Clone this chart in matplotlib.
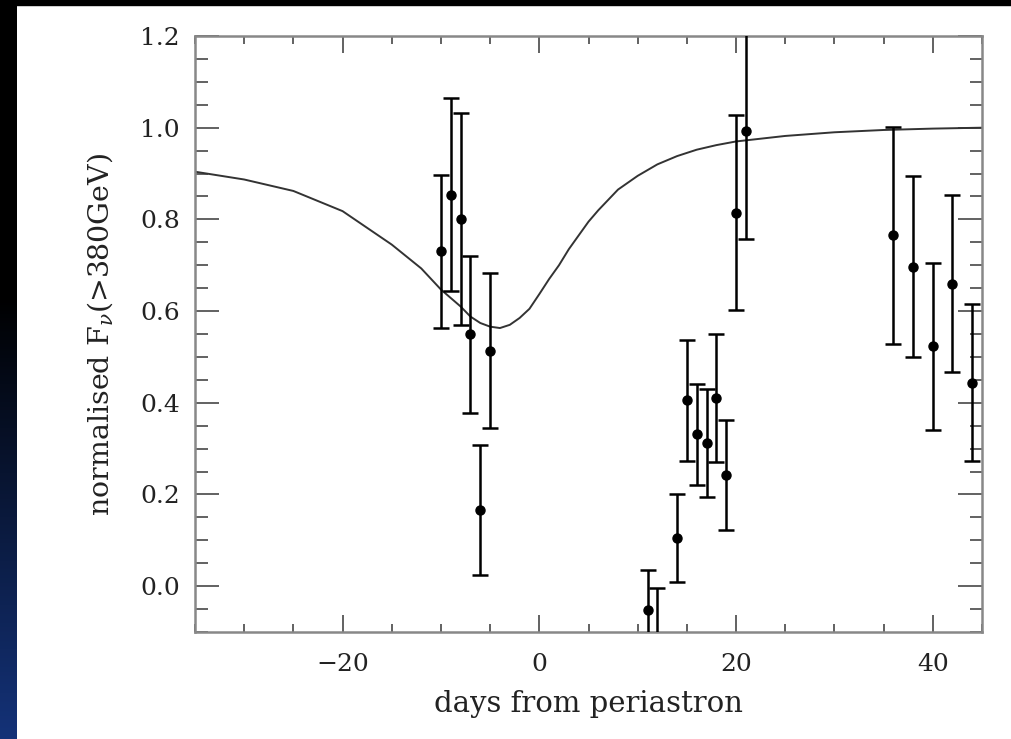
import matplotlib
matplotlib.use("Agg")
import matplotlib.pyplot as plt
import matplotlib.patches as patches
from matplotlib.colors import LinearSegmentedColormap
from matplotlib.ticker import MultipleLocator
import numpy as np

# measured points: days from periastron, normalised flux, symmetric error
days = [-10, -9, -8, -7, -6, -5, 11, 12, 14, 15, 16, 17, 18, 19, 20, 21, 36, 38, 40, 42, 44]
flux = [0.73, 0.854, 0.80, 0.549, 0.166, 0.514, -0.052, -0.13, 0.105, 0.405, 0.331, 0.312,
        0.41, 0.242, 0.815, 0.993, 0.765, 0.697, 0.523, 0.66, 0.444]
err = [0.167, 0.211, 0.231, 0.172, 0.142, 0.168, 0.087, 0.125, 0.097, 0.131, 0.11, 0.118,
       0.14, 0.12, 0.213, 0.235, 0.237, 0.198, 0.182, 0.193, 0.172]

# model curve
model_days = [-35, -30, -25, -20, -15, -12, -10, -8, -7, -6, -5, -4, -3, -2, -1, 0,
              1, 2, 3, 4, 5, 6, 8, 10, 12, 14, 16, 18, 20, 25, 30, 35, 40, 45]
model_flux = [0.904, 0.887, 0.862, 0.818, 0.745, 0.693, 0.647, 0.610, 0.588, 0.574, 0.566,
              0.563, 0.570, 0.585, 0.605, 0.637, 0.670, 0.700, 0.735, 0.765, 0.795, 0.820,
              0.865, 0.895, 0.920, 0.938, 0.952, 0.962, 0.970, 0.982, 0.990, 0.995, 0.998, 1.0]

plt.rcParams['font.family'] = ['DejaVu Serif']
plt.rcParams['mathtext.fontset'] = 'dejavuserif'

fig = plt.figure(figsize=(10.11, 7.39), dpi=100, facecolor='white')

# slide background: black top band and black-to-blue strip on the left
fig.patches.append(patches.Rectangle((0, 1 - 5/739), 1, 5/739, transform=fig.transFigure,
                                     color='black', zorder=0))
strip = fig.add_axes([0, 0, 17/1011, 1])
cmap = LinearSegmentedColormap.from_list('slide', [(0, '#000000'), (0.4, '#000000'),
                                                   (1, '#143278')])
strip.imshow(np.linspace(0, 1, 256).reshape(-1, 1), aspect='auto', cmap=cmap)
strip.axis('off')

ax = fig.add_axes([195/1011, 1 - 632/739, (982 - 195)/1011, (632 - 36)/739])

ax.plot(model_days, model_flux, color='#333333', lw=1.4, zorder=2)
ax.errorbar(days, flux, yerr=err, fmt='o', color='black', ms=6.5, elinewidth=1.8,
            capsize=5.5, capthick=1.8, zorder=3)

ax.set_xlim(-35, 45)
ax.set_ylim(-0.1, 1.2)
ax.xaxis.set_major_locator(MultipleLocator(20))
ax.xaxis.set_minor_locator(MultipleLocator(5))
ax.yaxis.set_major_locator(MultipleLocator(0.2))
ax.yaxis.set_minor_locator(MultipleLocator(0.05))
ax.yaxis.set_major_formatter(lambda v, p: f"{v:.1f}")
ax.xaxis.set_major_formatter(lambda v, p: f"{v:.0f}".replace('-', '\u2212'))

ax.tick_params(which='both', direction='in', top=True, right=True, color='#555555',
               width=1.3, labelsize=18, labelcolor='#222222')
ax.tick_params(axis='y', which='major', length=17, pad=11)
ax.tick_params(axis='y', which='minor', length=9)
ax.tick_params(axis='x', which='major', length=12, pad=15)
ax.tick_params(axis='x', which='minor', length=6)
for s in ax.spines.values():
    s.set_color('#888888')
    s.set_linewidth(1.8)

ax.set_xlabel('days from periastron', fontsize=21, color='#222222', labelpad=10)
ax.set_ylabel(r'normalised F$_\nu$(>380GeV)', fontsize=20.5, color='#222222', labelpad=18)

plt.savefig('out.png', dpi=100, facecolor=fig.get_facecolor())
plt.close()
